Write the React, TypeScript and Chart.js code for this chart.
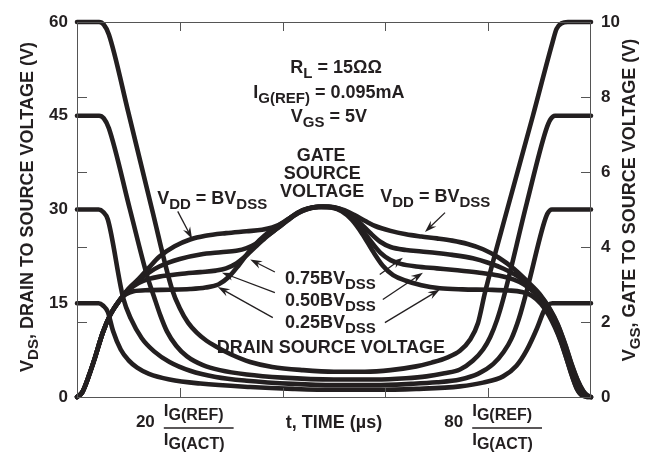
import { useEffect, useRef } from "react";
import { Chart, registerables } from "chart.js";

Chart.register(...registerables);

const INK = "#231f20";
const FONT = '"Liberation Sans", Arial, Helvetica, sans-serif';

// x axis: time (units of 0..100), ticks at these positions
const timeTicks = [20, 40, 60, 80];
const timeLabelTicks = [20, 80];
// left axis: VDS (V)
const vdsTickValues = [0, 15, 30, 45, 60];
// right axis: VGS (V)
const vgsTickValues = [0, 2, 4, 6, 8, 10];
const vgsInnerTicks = [2, 4, 6, 8];

// Drain-source voltage curves (x, VDS)
const vdsBV: [number, number][] = [
  [0, 60], [4.3, 60], [5.2, 59.6], [6.2, 58], [10, 45.5], [14.6, 30], [18.5, 17.2], [20, 14.2], [21.6, 11.9],
  [23.3, 10.3], [25.2, 9], [27.2, 8], [30, 6.8], [33.7, 5.6], [38, 4.8], [44, 4.3], [50, 4.05],
  [56, 4.05], [61, 4.3], [66, 4.9], [69, 5.5], [72, 6.3], [74.5, 7.4], [76.5, 9.2], [78, 11.8], [79.4, 16.8],
  [83.7, 30], [88.7, 45], [92.5, 56.7], [93.3, 58.9], [94.3, 59.8], [95.5, 60], [100, 60],
];
const vds075: [number, number][] = [
  [0, 45], [4.3, 45], [5.2, 44.6], [6.2, 43], [10.3, 30], [13.6, 19.5], [15, 16], [16.2, 13.1], [17.5, 10.5],
  [19.3, 8.2], [21.4, 6.5], [24.5, 5.1], [27.8, 4.3], [33, 3.6], [40, 3.1], [50, 2.8],
  [58, 2.8], [64, 3.0], [68, 3.3], [71.5, 3.8], [74.5, 4.4], [77, 5.8], [79, 7.6], [80.4, 9.6], [81.7, 12.3],
  [82.9, 15.6], [87.5, 31], [91.2, 42.6], [92.1, 44.4], [93, 45], [100, 45],
];
const vds050: [number, number][] = [
  [0, 30], [4.2, 30], [5.1, 29.6], [6, 28.4], [9, 15.8], [10.5, 12.5], [12.6, 9.4], [15, 7.3], [18, 5.6],
  [22, 4.2], [27, 3.2], [33, 2.6], [42, 2.1], [50, 1.9],
  [58, 1.9], [65, 2.1], [70, 2.35], [74.5, 2.8], [78, 3.7], [81, 5.3], [83, 7.2], [84.5, 9.3], [86, 12.6],
  [87.5, 17], [90.7, 27.4], [91.5, 29.3], [92.4, 30], [100, 30],
];
const vds025: [number, number][] = [
  [0, 15], [4.2, 15], [5.1, 14.6], [6, 13.6], [7, 10.6], [8.5, 7.6], [10, 5.9], [11.7, 4.7], [14, 3.7],
  [18, 2.8], [24, 2.15], [33.7, 1.6], [42, 1.3], [50, 1.15],
  [58, 1.15], [66, 1.3], [74.5, 1.7], [79, 2.3], [82.9, 3.3], [85.5, 5], [87.5, 7.5], [89.5, 11], [90.8, 13.7],
  [91.6, 14.7], [92.5, 15], [100, 15],
];

// Gate-source voltage curves (x, VGS)
const vgsBV: [number, number][] = [
  [0, 0], [1, 0.12], [2.5, 0.64], [3.5, 1.05], [5, 1.71], [6.5, 2.2], [8.4, 2.6], [10, 2.88], [12, 3.15],
  [14, 3.45], [16, 3.74], [19, 4.02], [22, 4.2], [25, 4.3], [29, 4.37], [33, 4.42], [36, 4.46], [38, 4.52],
  [40, 4.64], [42, 4.83], [44, 4.99], [46, 5.06], [48, 5.08], [50, 5.06], [52, 4.98], [54, 4.85], [56, 4.7],
  [58, 4.56], [61, 4.43], [64, 4.34], [67, 4.28], [70, 4.23], [73, 4.17], [76, 4.08], [79, 3.94], [82, 3.72],
  [85, 3.42], [87.5, 3.1], [90, 2.75], [92, 2.35], [93.5, 1.95], [95, 1.4], [96.3, 0.85], [97.4, 0.45],
  [98.5, 0.16], [99.3, 0.04], [100, 0],
];
const vgs075: [number, number][] = [
  [0, 0], [1, 0.12], [2.5, 0.64], [3.5, 1.05], [5, 1.71], [6.5, 2.2], [8.4, 2.6], [10, 2.88], [12, 3.12],
  [14, 3.32], [16, 3.48], [20, 3.68], [24, 3.8], [28, 3.86], [31, 3.9], [33, 3.97], [35, 4.1], [37, 4.3],
  [39, 4.5], [41, 4.72], [43, 4.92], [45, 5.03], [47, 5.07], [49, 5.07], [51, 5.02], [53, 4.88], [55, 4.65],
  [57, 4.38], [59, 4.14], [61, 4.0], [64, 3.92], [67, 3.88], [70, 3.84], [73, 3.79], [77, 3.7], [80, 3.58],
  [83, 3.42], [85.5, 3.24], [87.5, 3.05], [90, 2.72], [92, 2.33], [93.5, 1.93], [95, 1.38], [96.3, 0.83],
  [97.4, 0.44], [98.5, 0.15], [99.3, 0.04], [100, 0],
];
const vgs050: [number, number][] = [
  [0, 0], [1, 0.12], [2.5, 0.64], [3.5, 1.05], [5, 1.71], [6.5, 2.2], [8.4, 2.6], [10, 2.85], [12, 3.04],
  [14, 3.15], [16, 3.21], [20, 3.28], [24, 3.33], [27, 3.37], [29, 3.43], [31, 3.56], [33, 3.78], [35, 4.04],
  [37, 4.29], [39, 4.5], [41, 4.71], [43, 4.9], [45, 5.02], [47, 5.07], [49, 5.07], [51, 5.0], [53, 4.84],
  [55, 4.55], [57, 4.18], [59, 3.85], [61, 3.65], [63, 3.55], [66, 3.48], [70, 3.43], [74, 3.38], [78, 3.32],
  [82, 3.24], [85, 3.13], [87, 3.0], [89, 2.78], [91, 2.45], [92.5, 2.05], [94, 1.55], [95.3, 1.0],
  [96.3, 0.57], [97.2, 0.24], [98, 0.07], [99, 0.01], [100, 0],
];
const vgs025: [number, number][] = [
  [0, 0], [1, 0.12], [2.5, 0.64], [3.5, 1.05], [5, 1.71], [6.5, 2.2], [8.4, 2.6], [9.5, 2.74], [11, 2.82],
  [14, 2.85], [18, 2.86], [22, 2.88], [25, 2.92], [27.5, 3.0], [29.5, 3.2], [31.5, 3.52], [33.5, 3.88],
  [35.5, 4.18], [37.5, 4.42], [39.5, 4.6], [41.5, 4.78], [43.5, 4.94], [45.5, 5.04], [47.5, 5.07],
  [49.5, 5.05], [51.5, 4.95], [53.5, 4.72], [55.5, 4.35], [57.5, 3.9], [59.5, 3.5], [61.5, 3.25], [64, 3.1],
  [67, 2.98], [70.6, 2.9], [75, 2.87], [80, 2.86], [84, 2.84], [86.5, 2.8], [88.5, 2.7], [90.3, 2.48],
  [91.8, 2.18], [93, 1.85], [94.2, 1.45], [95.4, 0.95], [96.4, 0.52], [97.3, 0.2], [98.1, 0.06], [99, 0.01],
  [100, 0],
];

type Seg = { t: string; sub?: boolean };

// Annotations, placed in data units (x: time axis, y: VDS axis)
const textNotes: { segs: Seg[]; x: number; y: number; align: "left" | "center" }[] = [
  { segs: [{ t: "R" }, { t: "L", sub: true }, { t: " = 15ΩΩ" }], x: 50.4, y: 52.8, align: "center" },
  { segs: [{ t: "I" }, { t: "G(REF)", sub: true }, { t: " = 0.095mA" }], x: 49.0, y: 48.9, align: "center" },
  { segs: [{ t: "V" }, { t: "GS", sub: true }, { t: " = 5V" }], x: 49.0, y: 45.1, align: "center" },
  { segs: [{ t: "GATE" }], x: 47.5, y: 38.8, align: "center" },
  { segs: [{ t: "SOURCE" }], x: 47.7, y: 35.9, align: "center" },
  { segs: [{ t: "VOLTAGE" }], x: 47.7, y: 33.0, align: "center" },
  { segs: [{ t: "V" }, { t: "DD", sub: true }, { t: " = BV" }, { t: "DSS", sub: true }], x: 15.6, y: 31.9, align: "left" },
  { segs: [{ t: "V" }, { t: "DD", sub: true }, { t: " = BV" }, { t: "DSS", sub: true }], x: 59.0, y: 32.2, align: "left" },
  { segs: [{ t: "0.75BV" }, { t: "DSS", sub: true }], x: 49.3, y: 19.1, align: "center" },
  { segs: [{ t: "0.50BV" }, { t: "DSS", sub: true }], x: 49.3, y: 15.6, align: "center" },
  { segs: [{ t: "0.25BV" }, { t: "DSS", sub: true }], x: 49.3, y: 12.0, align: "center" },
  { segs: [{ t: "DRAIN SOURCE VOLTAGE" }], x: 49.4, y: 8.0, align: "center" },
];
const arrowNotes: { from: [number, number]; to: [number, number] }[] = [
  { from: [19.6, 29.7], to: [22.4, 25.3] },
  { from: [71.6, 29.5], to: [67.7, 26.4] },
  { from: [38.5, 20.0], to: [33.7, 22.0] },
  { from: [38.5, 16.7], to: [28.2, 19.9] },
  { from: [38.1, 12.7], to: [27.4, 17.6] },
  { from: [58.9, 19.6], to: [63.4, 22.3] },
  { from: [59.5, 15.6], to: [67.3, 19.9] },
  { from: [59.9, 11.9], to: [70.6, 17.2] },
];

function drawRich(
  ctx: CanvasRenderingContext2D,
  segs: Seg[],
  x: number,
  y: number,
  align: "left" | "center",
  size = 18,
  subSize = 15,
  subDrop = 5
) {
  const main = `bold ${size}px ${FONT}`;
  const sub = `bold ${subSize}px ${FONT}`;
  let w = 0;
  for (const s of segs) {
    ctx.font = s.sub ? sub : main;
    w += ctx.measureText(s.t).width;
  }
  let cx = align === "center" ? x - w / 2 : x;
  const base = y + size * 0.36;
  ctx.textAlign = "left";
  ctx.textBaseline = "alphabetic";
  for (const s of segs) {
    ctx.font = s.sub ? sub : main;
    ctx.fillText(s.t, cx, s.sub ? base + subDrop : base);
    cx += ctx.measureText(s.t).width;
  }
  return w;
}

function drawArrow(ctx: CanvasRenderingContext2D, x1: number, y1: number, x2: number, y2: number) {
  const ang = Math.atan2(y2 - y1, x2 - x1);
  const len = 12;
  const hw = 4;
  ctx.beginPath();
  ctx.moveTo(x1, y1);
  ctx.lineTo(x2 - Math.cos(ang) * 6, y2 - Math.sin(ang) * 6);
  ctx.lineWidth = 1.3;
  ctx.stroke();
  const bx = x2 - Math.cos(ang) * len;
  const by = y2 - Math.sin(ang) * len;
  const nx = x2 - Math.cos(ang) * (len - 4);
  const ny = y2 - Math.sin(ang) * (len - 4);
  ctx.beginPath();
  ctx.moveTo(x2, y2);
  ctx.lineTo(bx - Math.sin(ang) * hw, by + Math.cos(ang) * hw);
  ctx.lineTo(nx, ny);
  ctx.lineTo(bx + Math.sin(ang) * hw, by - Math.cos(ang) * hw);
  ctx.closePath();
  ctx.fill();
}

const decorPlugin = {
  id: "decor",
  afterDraw(chart: any) {
    const ctx: CanvasRenderingContext2D = chart.ctx;
    const { left, right, top, bottom } = chart.chartArea;
    const xs = chart.scales.x;
    const ys = chart.scales.y;
    const y1 = chart.scales.y1;
    ctx.save();
    ctx.strokeStyle = INK;
    ctx.fillStyle = INK;

    // frame
    ctx.lineWidth = 1;
    ctx.strokeStyle = "#555";
    ctx.strokeRect(left + 0.5, top + 0.5, right - left - 1, bottom - top);
    // inner ticks
    ctx.beginPath();
    for (const v of vgsInnerTicks) {
      const py = Math.round(y1.getPixelForValue(v)) + 0.5;
      ctx.moveTo(left, py);
      ctx.lineTo(left + 10, py);
      ctx.moveTo(right, py);
      ctx.lineTo(right - 10, py);
    }
    for (const v of timeTicks) {
      const px = Math.round(xs.getPixelForValue(v)) + 0.5;
      ctx.moveTo(px, bottom);
      ctx.lineTo(px, bottom - 9);
      ctx.moveTo(px, top);
      ctx.lineTo(px, top + 9);
    }
    ctx.stroke();
    ctx.strokeStyle = INK;

    // annotations
    for (const n of textNotes) {
      drawRich(ctx, n.segs, xs.getPixelForValue(n.x), ys.getPixelForValue(n.y), n.align);
    }
    for (const a of arrowNotes) {
      drawArrow(
        ctx,
        xs.getPixelForValue(a.from[0]),
        ys.getPixelForValue(a.from[1]),
        xs.getPixelForValue(a.to[0]),
        ys.getPixelForValue(a.to[1])
      );
    }

    // x axis labels
    const labY = bottom + 25;
    for (const v of timeLabelTicks) {
      const px = xs.getPixelForValue(v);
      ctx.font = `bold 17px ${FONT}`;
      ctx.textAlign = "right";
      ctx.textBaseline = "middle";
      ctx.fillText(String(v), px - 25, labY);
      const fx = px - 16;
      const w1 = drawRich(ctx, [{ t: "I" }, { t: "G(REF)", sub: true }], fx, labY - 12, "left", 17, 16, 4);
      drawRich(ctx, [{ t: "I" }, { t: "G(ACT)", sub: true }], fx, labY + 17, "left", 17, 16, 4);
      ctx.lineWidth = 1.3;
      ctx.beginPath();
      ctx.moveTo(fx, labY + 6);
      ctx.lineTo(fx + w1 + 10, labY + 6);
      ctx.stroke();
    }
    drawRich(ctx, [{ t: "t, TIME (µs)" }], (left + right) / 2, labY, "center", 18);

    // axis titles
    ctx.save();
    ctx.translate(27, 207);
    ctx.rotate(-Math.PI / 2);
    drawRich(ctx, [{ t: "V" }, { t: "DS", sub: true }, { t: ", DRAIN TO SOURCE VOLTAGE (V)" }], 0, 0, "center", 18, 15, 5);
    ctx.restore();
    ctx.save();
    ctx.translate(629, 200);
    ctx.rotate(-Math.PI / 2);
    drawRich(ctx, [{ t: "V" }, { t: "GS", sub: true }, { t: ", GATE TO SOURCE VOLTAGE (V)" }], 0, 0, "center", 18, 15, 5);
    ctx.restore();

    ctx.restore();
  },
};

function toPts(arr: [number, number][]) {
  return arr.map(([x, y]) => ({ x, y }));
}

export default function App() {
  const ref = useRef<HTMLCanvasElement | null>(null);
  useEffect(() => {
    document.body.style.margin = "0";
    const canvas = ref.current;
    if (!canvas) return;
    const line = (data: [number, number][], axis: string) => ({
      data: toPts(data),
      yAxisID: axis,
      borderColor: INK,
      borderWidth: 4.6,
      pointRadius: 0,
      fill: false,
      cubicInterpolationMode: "monotone" as const,
      borderCapStyle: "round" as const,
      borderJoinStyle: "round" as const,
      clip: 6,
    });
    const tickFont = { family: FONT, size: 17, weight: "bold" as const };
    const chart = new Chart(canvas, {
      type: "line",
      data: {
        datasets: [
          line(vdsBV, "y"),
          line(vds075, "y"),
          line(vds050, "y"),
          line(vds025, "y"),
          line(vgsBV, "y1"),
          line(vgs075, "y1"),
          line(vgs050, "y1"),
          line(vgs025, "y1"),
        ],
      },
      options: {
        responsive: false,
        animation: false,
        events: [],
        layout: { padding: { top: 22, left: 0, right: 0, bottom: 0 } },
        plugins: { legend: { display: false }, tooltip: { enabled: false } },
        scales: {
          x: {
            type: "linear",
            min: 0,
            max: 100,
            ticks: { display: false },
            grid: { display: false, drawTicks: false },
            border: { display: false },
            afterFit: (s: any) => {
              s.height = 57;
            },
          },
          y: {
            type: "linear",
            position: "left",
            min: 0,
            max: 60,
            afterBuildTicks: (s: any) => {
              s.ticks = vdsTickValues.map((v) => ({ value: v }));
            },
            ticks: { font: tickFont, color: INK, padding: 9 },
            grid: { display: false, drawTicks: false },
            border: { display: false },
            afterFit: (s: any) => {
              s.width = 77;
            },
          },
          y1: {
            type: "linear",
            position: "right",
            min: 0,
            max: 10,
            afterBuildTicks: (s: any) => {
              s.ticks = vgsTickValues.map((v) => ({ value: v }));
            },
            ticks: { font: tickFont, color: INK, padding: 10 },
            grid: { display: false, drawTicks: false },
            border: { display: false },
            afterFit: (s: any) => {
              s.width = 66;
            },
          },
        },
      },
      plugins: [decorPlugin],
    });
    return () => chart.destroy();
  }, []);
  return (
    <div style={{ position: "fixed", left: 0, top: 0, width: 657, height: 454, background: "#fff" }}>
      <canvas ref={ref} width={657} height={454} />
    </div>
  );
}
